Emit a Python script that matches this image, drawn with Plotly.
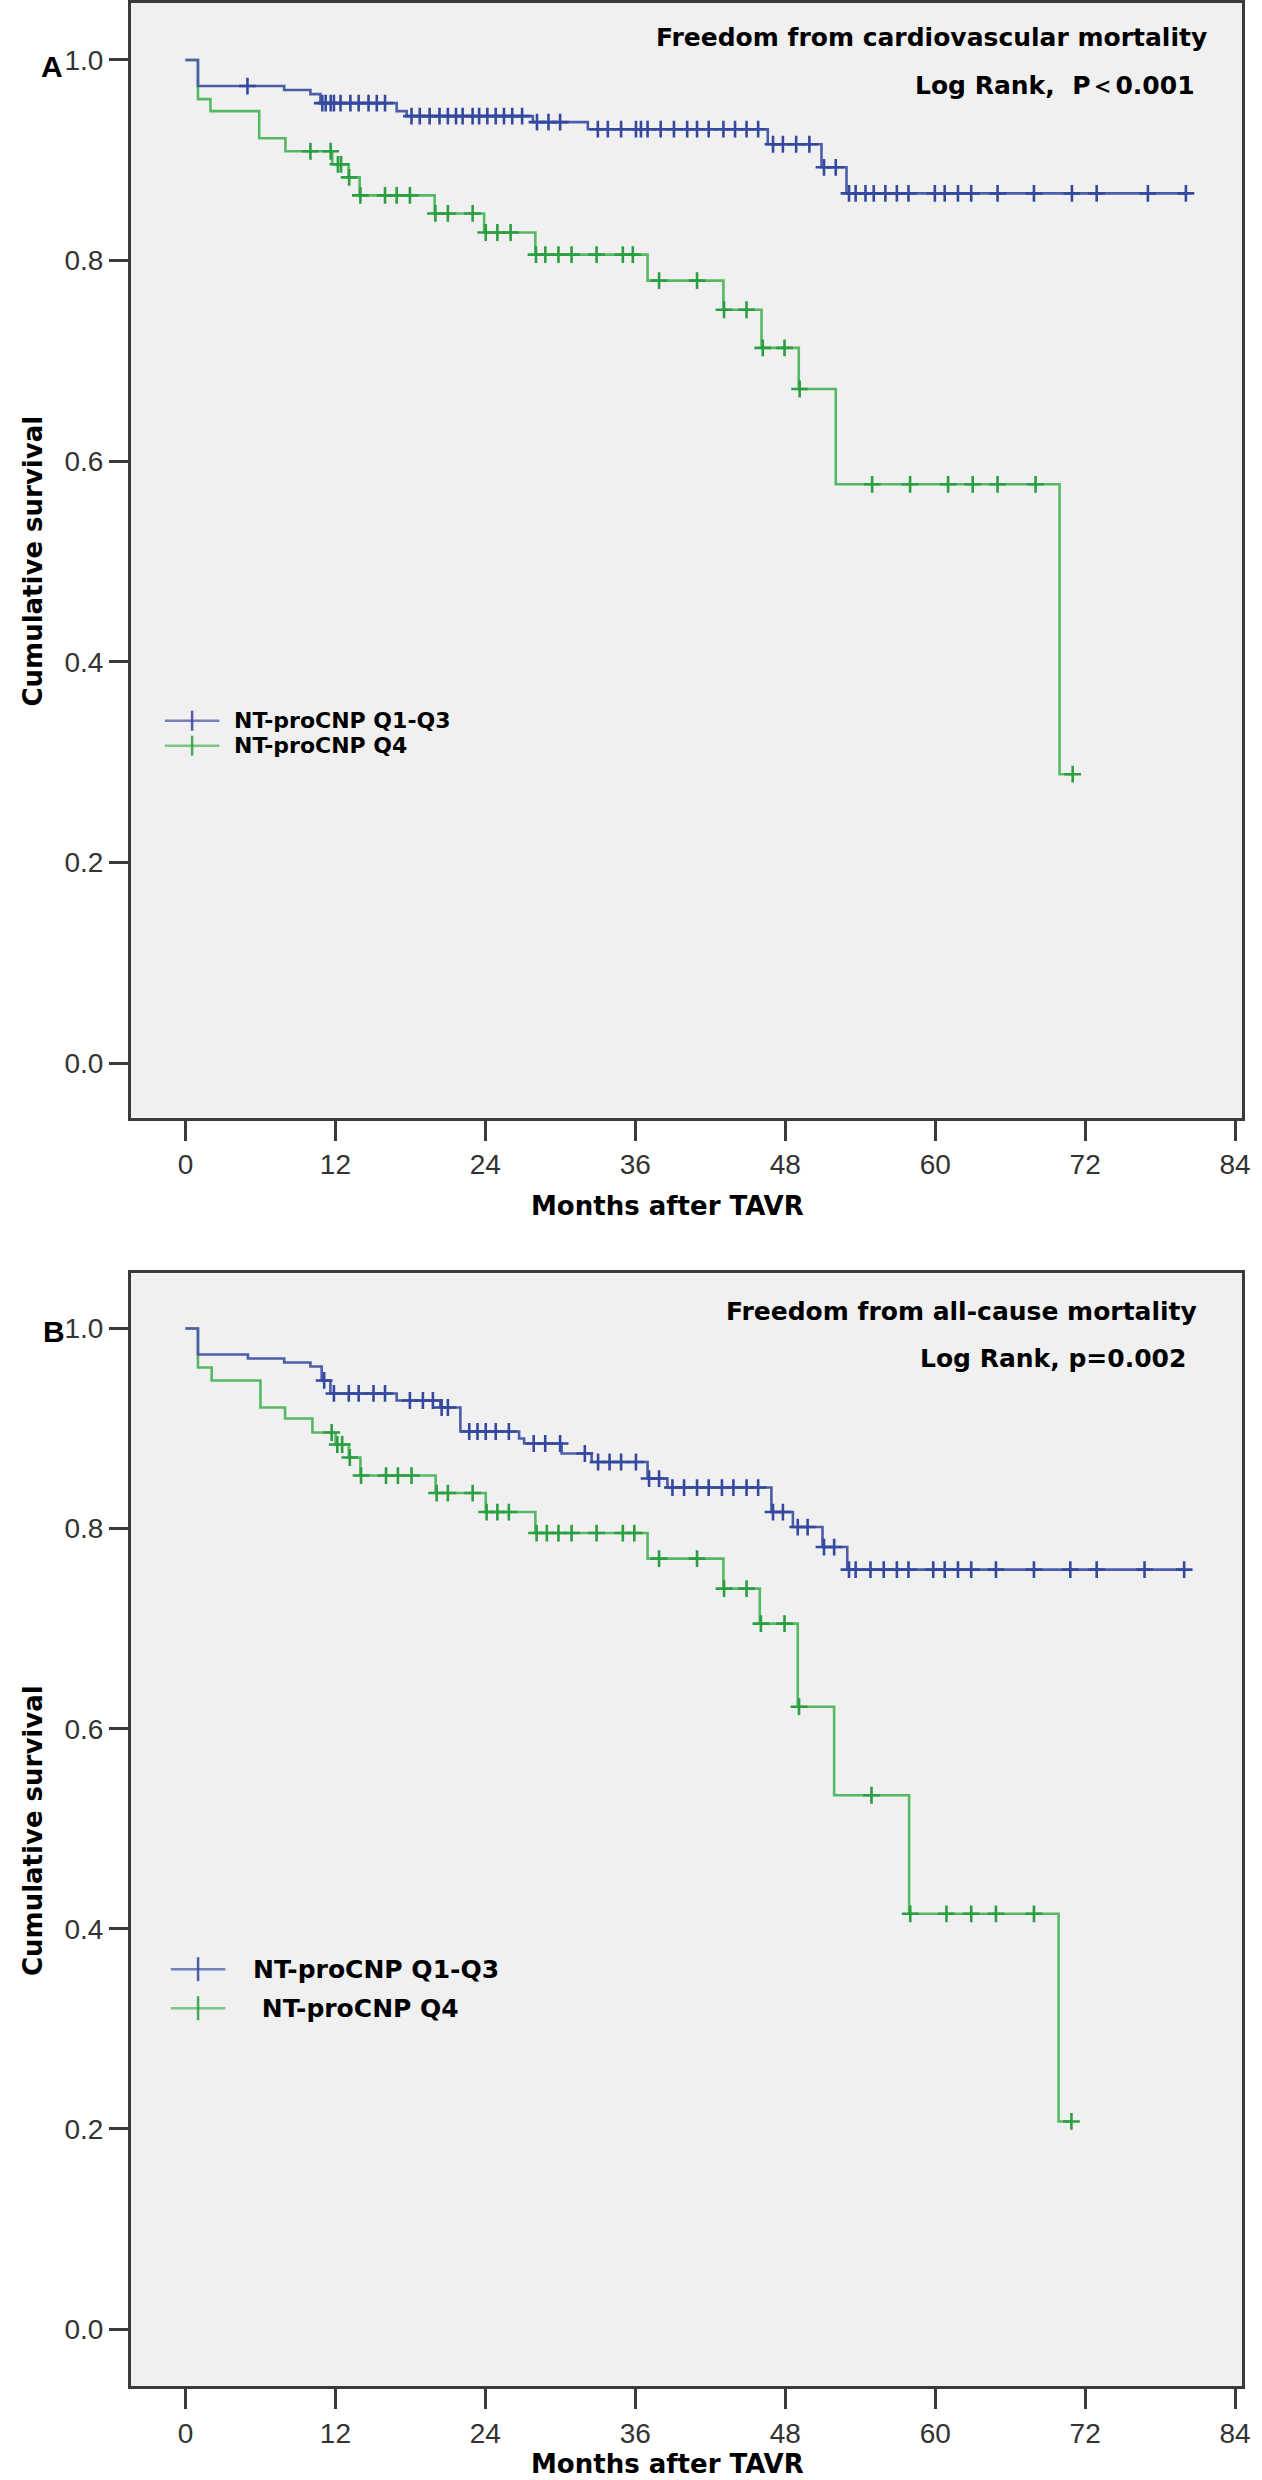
import numpy as np
import plotly.graph_objects as go

# ---------------- data ----------------
month_ticks = [0, 12, 24, 36, 48, 60, 72, 84]
surv_ticks = [0.0, 0.2, 0.4, 0.6, 0.8, 1.0]
group_names = ["NT-proCNP Q1-Q3", "NT-proCNP Q4"]

# Panel A - freedom from cardiovascular mortality
a_q13_event_t = [1.0, 7.9, 10.0, 10.8, 16.9, 17.7, 27.8, 32.2, 46.6, 50.9, 52.9]
a_q13_event_s = [0.974, 0.970, 0.966, 0.957, 0.949, 0.944, 0.938, 0.931, 0.916, 0.893, 0.867]
a_q13_cens_t = [4.96, 10.95, 11.22, 11.62, 11.88, 12.41, 13.2, 13.86, 14.65, 15.31, 15.97,
                18.09, 18.75, 19.54, 20.33, 21.0, 21.65, 22.18, 22.98, 23.5, 24.16, 24.83,
                25.49, 26.15, 26.94, 28.13, 29.05, 29.98, 33.0, 33.8, 34.86, 36.05, 36.45,
                36.98, 38.03, 39.09, 40.15, 40.94, 41.87, 43.05, 43.98, 44.9, 45.83, 47.02,
                47.81, 48.87, 49.93, 51.1, 52.04, 53.1, 53.63, 54.42, 55.08, 56.01, 56.93,
                57.86, 59.97, 60.76, 61.82, 62.88, 64.99, 67.9, 70.94, 72.92, 77.02, 80.06]

a_q4_event_t = [1.0, 2.0, 5.9, 8.0, 11.75, 13.05, 13.94, 19.94, 23.9, 28.0, 36.98, 43.05,
                46.1, 49.08, 52.04, 69.95]
a_q4_event_s = [0.961, 0.949, 0.922, 0.909, 0.896, 0.883, 0.865, 0.847, 0.828, 0.806, 0.780,
                0.751, 0.713, 0.672, 0.577, 0.288]
a_q4_cens_t = [10.0, 11.62, 12.2, 12.45, 13.1, 14.0, 15.97, 16.9, 17.96, 20.0, 21.0, 22.98,
               24.03, 24.96, 26.02, 28.05, 28.8, 29.85, 30.9, 32.9, 35.0, 35.8, 37.9, 40.94,
               43.1, 44.9, 46.2, 47.94, 49.15, 54.95, 57.99, 61.03, 63.0, 64.99, 68.03, 71.0]

# Panel B - freedom from all-cause mortality
b_q13_event_t = [1.0, 5.0, 7.9, 10.0, 10.9, 11.6, 16.9, 20.4, 22.0, 26.7, 27.1, 30.1, 32.5,
                 36.98, 38.57, 46.89, 48.61, 50.98, 52.96]
b_q13_event_s = [0.974, 0.970, 0.966, 0.962, 0.948, 0.935, 0.928, 0.921, 0.897, 0.890, 0.885,
                 0.875, 0.8665, 0.850, 0.841, 0.8165, 0.8015, 0.7815, 0.759]
b_q13_cens_t = [11.1, 11.88, 13.07, 13.86, 15.05, 15.97, 17.96, 19.0, 19.8, 20.5, 21.0, 22.71,
                23.37, 24.03, 24.83, 25.88, 27.87, 28.79, 29.98, 31.96, 33.02, 33.94, 34.86,
                36.05, 37.1, 37.9, 38.97, 39.9, 40.94, 41.87, 42.93, 43.85, 44.9, 45.83,
                47.02, 47.81, 49.0, 49.79, 51.1, 51.91, 53.1, 53.63, 54.82, 55.88, 56.93,
                57.86, 59.84, 60.76, 61.82, 62.88, 64.86, 67.9, 70.81, 72.92, 76.75, 79.92]

b_q4_event_t = [1.0, 2.1, 6.0, 7.97, 10.16, 12.01, 13.07, 14.0, 20.02, 24.03, 28.0, 36.98,
                43.05, 45.96, 49.0, 51.91, 57.91, 69.87]
b_q4_event_s = [0.961, 0.948, 0.921, 0.910, 0.896, 0.884, 0.871, 0.853, 0.8355, 0.8165,
                0.7955, 0.770, 0.740, 0.705, 0.622, 0.5335, 0.415, 0.2075]
b_q4_cens_t = [11.7, 12.15, 12.54, 13.15, 14.05, 16.05, 17.0, 18.09, 20.1, 21.0, 22.98, 24.1,
               24.96, 25.88, 28.1, 28.92, 29.85, 30.9, 32.9, 35.0, 35.92, 37.9, 40.94, 43.1,
               44.9, 46.05, 47.94, 49.1, 54.9, 58.0, 60.9, 62.88, 64.86, 67.9, 70.9]

panel_titles = ["Freedom from cardiovascular mortality", "Freedom from all-cause mortality"]
panel_tests = ["Log Rank,\u00a0 P\uff1c0.001", "Log Rank, p=0.002"]
panel_letters = ["A", "B"]
x_title = "Months after TAVR"
y_title = "Cumulative survival"

# ---------------- styling ----------------
W, H = 1262, 2480
BLUE_LINE, BLUE_MARK = "#4b5ca9", "#34489e"
GREEN_LINE, GREEN_MARK = "#55b963", "#2c9e42"
AXIS_COL = "#3a3a3a"
BOLD = "DejaVu Sans"
NUM = "Liberation Sans"

def px(x):
    return x / W

def py(y):
    return 1 - y / H


def km_steps(event_t, event_s, cens_t):
    t_end = max(max(event_t), max(cens_t))
    xs = [0.0] + list(event_t) + [t_end]
    ys = [1.0] + list(event_s) + [event_s[-1]]
    et = np.array(event_t)
    es = np.array(event_s)
    cs = []
    for t in cens_t:
        idx = np.where(et <= t)[0]
        cs.append(1.0 if len(idx) == 0 else float(es[idx[-1]]))
    return xs, ys, list(cens_t), cs


fig = go.Figure()

panels = [
    ("x", "y", [(a_q13_event_t, a_q13_event_s, a_q13_cens_t, BLUE_LINE, BLUE_MARK),
                (a_q4_event_t, a_q4_event_s, a_q4_cens_t, GREEN_LINE, GREEN_MARK)]),
    ("x2", "y2", [(b_q13_event_t, b_q13_event_s, b_q13_cens_t, BLUE_LINE, BLUE_MARK),
                  (b_q4_event_t, b_q4_event_s, b_q4_cens_t, GREEN_LINE, GREEN_MARK)]),
]

for xa, ya, groups in panels:
    # draw Q4 first so Q1-Q3 is on top
    for gi in [1, 0]:
        et, es, ct, lc, mc = groups[gi]
        xs, ys, cx, cy = km_steps(et, es, ct)
        fig.add_trace(go.Scatter(x=xs, y=ys, mode="lines", line=dict(color=lc, width=2.6, shape="hv"),
                                 xaxis=xa, yaxis=ya, showlegend=False, hoverinfo="skip"))
        fig.add_trace(go.Scatter(x=cx, y=cy, mode="markers",
                                 marker=dict(symbol="cross-thin", size=12,
                                             line=dict(color=mc, width=2.6)),
                                 xaxis=xa, yaxis=ya, showlegend=False, hoverinfo="skip"))

# ---------------- layout ----------------
x_dom = [px(132), px(1251)]
y_dom_a = [py(1117), py(2)]
y_dom_b = [py(2386), py(1273)]

xaxis_common = dict(
    range=[-4.354, 84.556], tickmode="array", tickvals=month_ticks,
    ticktext=[str(v) for v in month_ticks], ticks="outside", ticklen=20, tickwidth=3,
    tickcolor=AXIS_COL, showline=True, linecolor=AXIS_COL, linewidth=3, mirror=True,
    showgrid=False, zeroline=False, tickfont=dict(family=NUM, size=28, color="#333333"),
    domain=x_dom, fixedrange=True, ticklabeloverflow="allow",
)
yaxis_common = dict(
    tickmode="array", tickvals=surv_ticks, ticktext=["%.1f" % v for v in surv_ticks],
    ticks="outside", ticklen=19, tickwidth=3, tickcolor=AXIS_COL, showline=True,
    linecolor=AXIS_COL, linewidth=3, mirror=True, showgrid=False, zeroline=False,
    tickfont=dict(family=NUM, size=28, color="#333333"), fixedrange=True,
    ticklabeloverflow="allow",
)

fig.update_layout(
    width=W, height=H, margin=dict(l=0, r=0, t=0, b=0),
    paper_bgcolor="white", plot_bgcolor="#f0f0f0", showlegend=False,
    xaxis=dict(**xaxis_common, anchor="y"),
    yaxis=dict(**yaxis_common, range=[-0.0543, 1.0568], domain=y_dom_a, anchor="x"),
    xaxis2=dict(**xaxis_common, anchor="y2"),
    yaxis2=dict(**yaxis_common, range=[-0.0569, 1.0549], domain=y_dom_b, anchor="x2"),
)

ann = []
shapes = []

def text(x, y, s, size, family=BOLD, xanchor="center", angle=0, color="black"):
    ann.append(dict(x=px(x), y=py(y), xref="paper", yref="paper", text=s, showarrow=False,
                    xanchor=xanchor, yanchor="middle", textangle=angle,
                    font=dict(family=family, size=size, color=color)))

# panel texts
text(1218, 37, "<b>%s</b>" % panel_titles[0], 25, xanchor="right")
text(1206, 85, "<b>%s</b>" % panel_tests[0], 25, xanchor="right")
text(1208, 1311, "<b>%s</b>" % panel_titles[1], 25, xanchor="right")
text(1197, 1358, "<b>%s</b>" % panel_tests[1], 25, xanchor="right")

# panel letters
text(52, 66, "<b>%s</b>" % panel_letters[0], 30, family=NUM)
text(54, 1331, "<b>%s</b>" % panel_letters[1], 30, family=NUM)

# axis titles
text(33, 560, "<b>%s</b>" % y_title, 26, angle=-90)
text(33, 1830, "<b>%s</b>" % y_title, 26, angle=-90)
text(672, 1205, "<b>%s</b>" % x_title, 26)
text(672, 2464, "<b>%s</b>" % x_title, 26)

# legends
def legend(x0, x1, xt, rows, size, tick_h):
    for (yy, lc, mc, name) in rows:
        shapes.append(dict(type="line", xref="paper", yref="paper", x0=px(x0), x1=px(x1),
                           y0=py(yy), y1=py(yy), line=dict(color=lc, width=2.5), opacity=0.75))
        xm = (x0 + x1) / 2
        shapes.append(dict(type="line", xref="paper", yref="paper", x0=px(xm), x1=px(xm),
                           y0=py(yy - tick_h / 2), y1=py(yy + tick_h / 2),
                           line=dict(color=mc, width=2.5), opacity=0.85))
        text(xt, yy, "<b>%s</b>" % name, size, xanchor="left")

legend(166, 221, 234, [(720, BLUE_LINE, BLUE_MARK, group_names[0]),
                       (745, GREEN_LINE, GREEN_MARK, group_names[1])], 22, 20)
legend(172, 227, 253, [(1969, BLUE_LINE, BLUE_MARK, group_names[0]),
                       (2008, GREEN_LINE, GREEN_MARK, "\u00a0" + group_names[1])], 25, 24)

fig.update_layout(annotations=ann, shapes=shapes)
fig.write_html(
    "out.html",
    config={"displayModeBar": False},
    post_script="document.body.style.margin='0';document.body.style.overflow='hidden';",
)
